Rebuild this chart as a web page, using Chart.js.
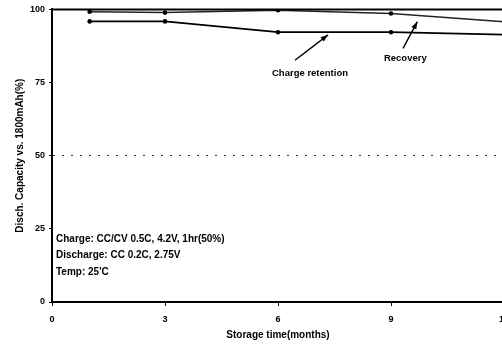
<!DOCTYPE html>
<html>
<head>
<meta charset="utf-8">
<script src="https://cdn.jsdelivr.net/npm/chart.js@4"></script>
<style>
  html, body { margin: 0; padding: 0; background: #fff; overflow: hidden; }
  #wrap { width: 502px; height: 345px; overflow: hidden; }
</style>
</head>
<body>
<div id="wrap"><canvas id="chart" width="520" height="345"></canvas></div>
<script>
// storage time (months) and capacity (% of 1800mAh)
const months = [1, 3, 6, 9, 12];
const recovery = [99.2, 98.9, 99.7, 98.6, 95.8];
const retention = [95.9, 95.9, 92.2, 92.2, 91.4];
const xTicks = [0, 3, 6, 9, 12];
const yTicks = [0, 25, 50, 75, 100];
const notes = ["Charge: CC/CV 0.5C, 4.2V, 1hr(50%)", "Discharge: CC 0.2C, 2.75V", "Temp: 25'C"];

const FONT = "'Liberation Sans', Arial, sans-serif";

const toPoints = (ys) => months.map((m, i) => ({ x: m, y: ys[i] }));

// text labels, arrows, frame top line and test conditions
const annotate = {
  id: "annotate",
  afterDraw(chart) {
    const { ctx, chartArea } = chart;
    const x = chart.scales.x, y = chart.scales.y;
    ctx.save();
    // top frame
    ctx.strokeStyle = "#000";
    ctx.lineWidth = 2;
    ctx.beginPath();
    ctx.moveTo(chartArea.left, chartArea.top);
    ctx.lineTo(chartArea.right, chartArea.top);
    ctx.stroke();

    const arrow = (x1, y1, x2, y2) => {
      const px1 = x.getPixelForValue(x1), py1 = y.getPixelForValue(y1);
      const px2 = x.getPixelForValue(x2), py2 = y.getPixelForValue(y2);
      ctx.lineWidth = 1.4;
      ctx.beginPath();
      ctx.moveTo(px1, py1);
      ctx.lineTo(px2, py2);
      ctx.stroke();
      const a = Math.atan2(py2 - py1, px2 - px1);
      ctx.beginPath();
      ctx.moveTo(px2, py2);
      ctx.lineTo(px2 - 8 * Math.cos(a - 0.35), py2 - 8 * Math.sin(a - 0.35));
      ctx.lineTo(px2 - 8 * Math.cos(a + 0.35), py2 - 8 * Math.sin(a + 0.35));
      ctx.closePath();
      ctx.fillStyle = "#000";
      ctx.fill();
    };
    arrow(6.45, 82.6, 7.33, 91.3);
    arrow(9.32, 86.7, 9.7, 95.8);

    ctx.fillStyle = "#000";
    ctx.font = "bold 9.5px " + FONT;
    ctx.textAlign = "center";
    ctx.textBaseline = "middle";
    ctx.fillText("Charge retention", x.getPixelForValue(6.85), y.getPixelForValue(78.2));
    ctx.fillText("Recovery", x.getPixelForValue(9.38), y.getPixelForValue(83.3));

    ctx.textAlign = "left";
    ctx.font = "bold 10px " + FONT;
    notes.forEach((t, i) => {
      ctx.fillText(t, chartArea.left + 4, 239 + i * 16.5);
    });
    ctx.restore();
  }
};

const ctx = document.getElementById("chart").getContext("2d");
new Chart(ctx, {
  type: "line",
  data: {
    datasets: [
      {
        label: "Recovery",
        data: toPoints(recovery),
        borderColor: "#222",
        backgroundColor: "#000",
        borderWidth: 1.5,
        pointRadius: 2.3,
        pointBorderWidth: 0,
        tension: 0,
      },
      {
        label: "Charge retention",
        data: toPoints(retention),
        borderColor: "#000",
        backgroundColor: "#000",
        borderWidth: 1.8,
        pointRadius: 2.3,
        pointBorderWidth: 0,
        tension: 0,
      },
    ],
  },
  options: {
    responsive: false,
    animation: false,
    layout: { padding: { top: 9, right: 16, left: 0, bottom: 0 } },
    plugins: { legend: { display: false }, tooltip: { enabled: false } },
    scales: {
      x: {
        type: "linear",
        min: 0,
        max: 12,
        afterBuildTicks: (s) => { s.ticks = xTicks.map((v) => ({ value: v })); },
        ticks: { color: "#000", font: { family: FONT, size: 9, weight: "bold" }, padding: 8, maxRotation: 0 },
        grid: { drawOnChartArea: false, tickLength: 4, color: "#000" },
        border: { color: "#000", width: 2 },
        title: {
          display: true,
          text: "Storage time(months)",
          color: "#000",
          font: { family: FONT, size: 10, weight: "bold" },
          padding: { top: 0, bottom: 4 },
        },
        afterFit: (s) => { s.height = 43; },
      },
      y: {
        min: 0,
        max: 100,
        afterBuildTicks: (s) => { s.ticks = yTicks.map((v) => ({ value: v })); },
        ticks: { color: "#000", font: { family: FONT, size: 9, weight: "bold" }, padding: 4 },
        grid: {
          tickLength: 3,
          color: (c) => (c.tick && c.tick.value === 50 ? "#333" : "rgba(0,0,0,0)"),
          tickColor: "#000",
          tickBorderDash: [],
          lineWidth: 1,
        },
        border: { color: "#000", width: 2, dash: [2, 7] },
        title: {
          display: true,
          text: "Disch. Capacity vs. 1800mAh(%)",
          color: "#000",
          font: { family: FONT, size: 10, weight: "bold" },
          padding: { top: 14, bottom: 0 },
        },
        afterFit: (s) => { s.width = 52; },
      },
    },
  },
  plugins: [annotate],
});
</script>
</body>
</html>
